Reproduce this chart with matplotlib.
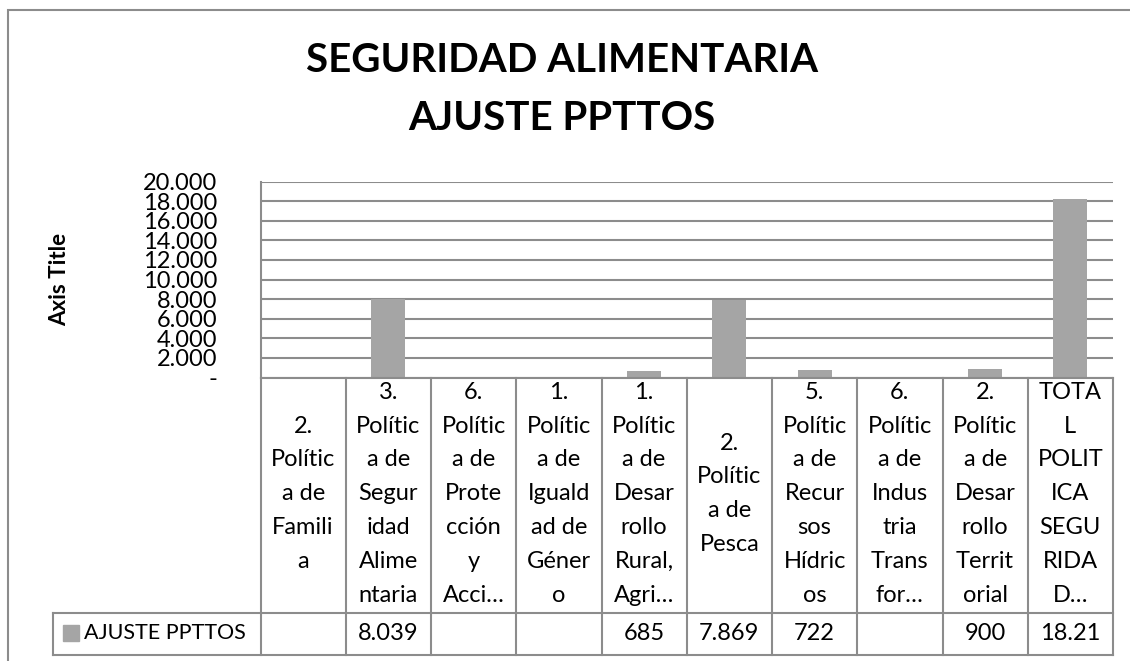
import numpy as np
import matplotlib
matplotlib.use("Agg")
import matplotlib.pyplot as plt
from matplotlib.patches import Rectangle

# ---- data ----
title_lines = ["SEGURIDAD ALIMENTARIA", "AJUSTE PPTTOS"]
series_name = "AJUSTE PPTTOS"
y_axis_title = "Axis Title"
category_lines = [
    ["2.", "Polític", "a de", "Famili", "a"],
    ["3.", "Polític", "a de", "Segur", "idad", "Alime", "ntaria"],
    ["6.", "Polític", "a de", "Prote", "cción", "y", "Acci…"],
    ["1.", "Polític", "a de", "Iguald", "ad de", "Géner", "o"],
    ["1.", "Polític", "a de", "Desar", "rollo", "Rural,", "Agri…"],
    ["2.", "Polític", "a de", "Pesca"],
    ["5.", "Polític", "a de", "Recur", "sos", "Hídric", "os"],
    ["6.", "Polític", "a de", "Indus", "tria", "Trans", "for…"],
    ["2.", "Polític", "a de", "Desar", "rollo", "Territ", "orial"],
    ["TOTA", "L", "POLIT", "ICA", "SEGU", "RIDA", "D…"],
]
values = [np.nan, 8039, np.nan, np.nan, 685, 7869, 722, np.nan, 900, 18215]
y_ticks = [0, 2000, 4000, 6000, 8000, 10000, 12000, 14000, 16000, 18000, 20000]
y_tick_labels = ["-", "2.000", "4.000", "6.000", "8.000", "10.000", "12.000",
                 "14.000", "16.000", "18.000", "20.000"]

# ---- style ----
W, H = 1130, 661
FONT = "Lato"
bar_color = "#A5A5A5"
line_color = "#8C8C8C"
plt.rcParams["font.family"] = [FONT, "DejaVu Sans"]

fig = plt.figure(figsize=(W / 100, H / 100), dpi=100)
fig.patch.set_facecolor("white")

def fx(px):
    return px / W

def fy(py):
    return 1 - py / H

# outer chart frame
fig.add_artist(Rectangle((fx(8), fy(700)), fx(1200), fy(10) - fy(700),
                         transform=fig.transFigure, fill=False,
                         edgecolor="#8C8C8C", linewidth=1.5))

# plot area
left, right, top, bottom = 260.5, 1113, 181.5, 377.5
ax = fig.add_axes([fx(left), fy(bottom), fx(right) - fx(left), fy(top) - fy(bottom)])
n = len(values)
x = np.arange(n)
vals = np.array(values, dtype=float)
ax.bar(x, np.nan_to_num(vals), width=0.4, color=bar_color, zorder=3)
ax.set_xlim(-0.5, n - 0.5)
ax.set_ylim(0, 20000)
ax.set_yticks(y_ticks)
ax.set_yticklabels(y_tick_labels, fontsize=17, family=FONT)
ax.tick_params(axis="y", length=0, pad=31)
ax.set_xticks([])
ax.grid(axis="y", color=line_color, linewidth=1.5, zorder=0)
for s in ["top", "right", "bottom"]:
    ax.spines[s].set_visible(False)
ax.spines["left"].set_color(line_color)
ax.spines["left"].set_linewidth(1.5)

# axis title
fig.text(fx(60), fy(279), y_axis_title, rotation=90, ha="center", va="center",
         fontsize=16, fontweight="bold", family=FONT)

# title
fig.text(fx(562), fy(60), title_lines[0], ha="center", va="center",
         fontsize=29, fontweight="bold", family=FONT)
fig.text(fx(562), fy(118), title_lines[1], ha="center", va="center",
         fontsize=29, fontweight="bold", family=FONT)

# data table
tab_top, hdr_bot, tab_bot = 377.5, 613, 655
leg_left = 53
tax = fig.add_axes([fx(left), fy(tab_bot), fx(right) - fx(left), fy(tab_top) - fy(tab_bot)])
tax.set_xlim(-0.5, n - 0.5)
tax.set_ylim(tab_bot, tab_top)
tax.axis("off")
colw_px = (right - left) / n
leg_x = -0.5 - (left - leg_left) / colw_px

kw = dict(color=line_color, linewidth=1.5, clip_on=False)
tax.plot([-0.5, n - 0.5], [tab_top, tab_top], **kw)
tax.plot([leg_x, n - 0.5], [hdr_bot, hdr_bot], **kw)
tax.plot([leg_x, n - 0.5], [tab_bot, tab_bot], **kw)
for i in range(n + 1):
    tax.plot([i - 0.5, i - 0.5], [tab_top, tab_bot], **kw)
tax.plot([leg_x, leg_x], [hdr_bot, tab_bot], **kw)

fs_tab = 17
line_h = 33.8
hdr_c = (tab_top + hdr_bot) / 2 - 1.5
for i, lines in enumerate(category_lines):
    m = len(lines)
    for j, t in enumerate(lines):
        yy = hdr_c + (j - (m - 1) / 2) * line_h
        tax.text(i, yy, t, ha="center", va="center", fontsize=fs_tab, family=FONT)

val_c = (hdr_bot + tab_bot) / 2 - 1
for i, v in enumerate(values):
    if np.isnan(v):
        continue
    s = f"{v:,.0f}".replace(",", ".")[:5]
    tax.text(i, val_c, s, ha="center", va="center", fontsize=fs_tab, family=FONT)

# legend key in table
key_px = 16
tax.add_patch(Rectangle((leg_x + 10 / colw_px, val_c - key_px / 2), key_px / colw_px, key_px,
                        color=bar_color, clip_on=False))
tax.text(leg_x + 31 / colw_px, val_c, series_name, ha="left", va="center",
         fontsize=15.5, family=FONT)

fig.savefig("out.png", dpi=100)
